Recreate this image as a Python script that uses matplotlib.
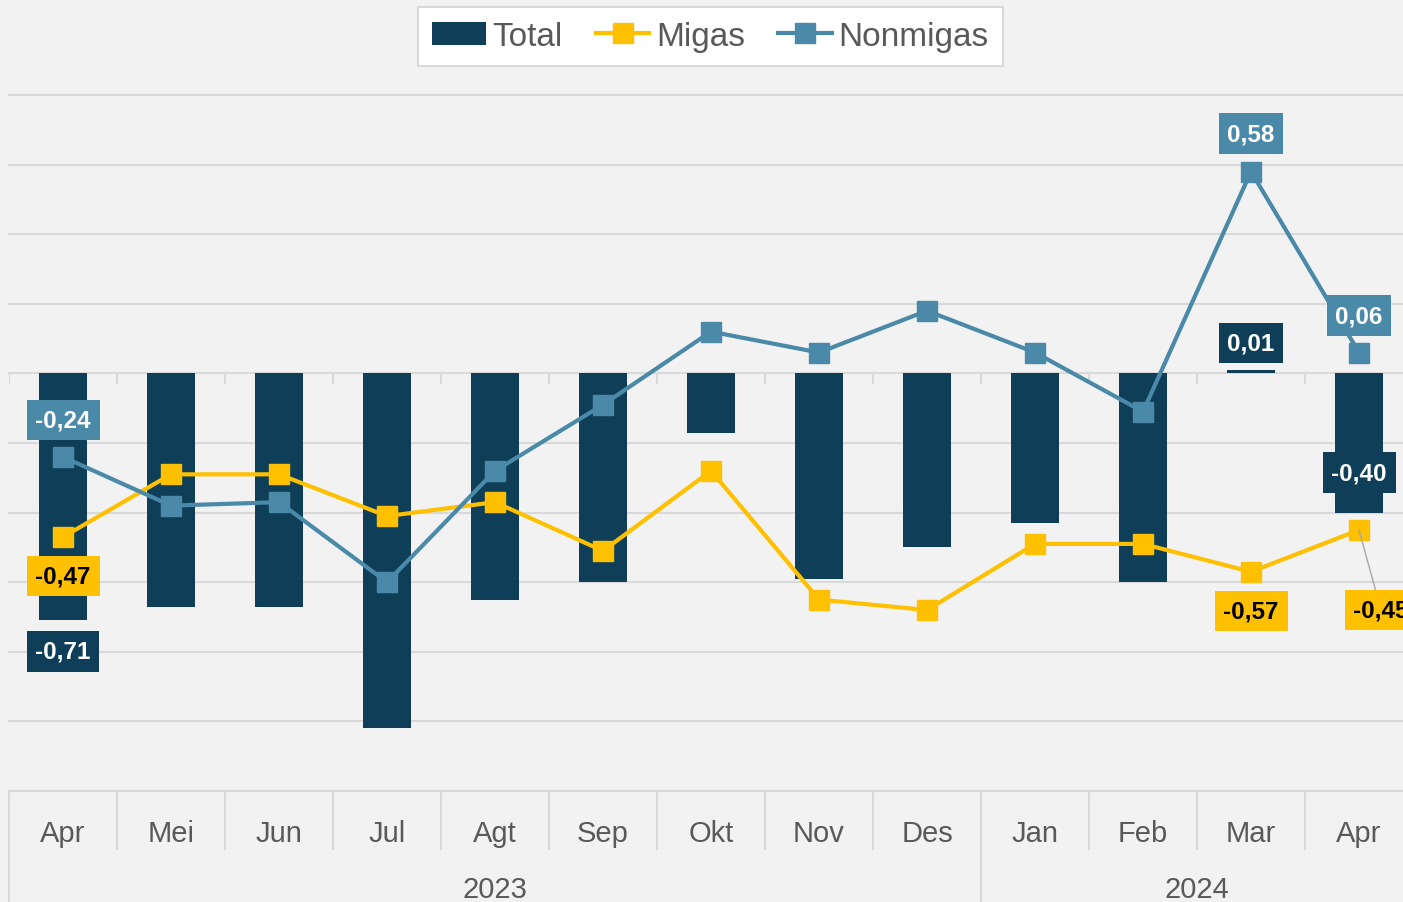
import matplotlib.pyplot as plt
import numpy as np
from matplotlib.patches import Patch
from matplotlib.lines import Line2D

# Data neraca (persen), Apr 2023 - Apr 2024
bulan = ['Apr', 'Mei', 'Jun', 'Jul', 'Agt', 'Sep', 'Okt', 'Nov', 'Des', 'Jan', 'Feb', 'Mar', 'Apr']
tahun = ['2023', '2024']
total = [-0.71, -0.67, -0.67, -1.02, -0.65, -0.60, -0.17, -0.59, -0.50, -0.43, -0.60, 0.01, -0.40]
migas = [-0.47, -0.29, -0.29, -0.41, -0.37, -0.51, -0.28, -0.65, -0.68, -0.49, -0.49, -0.57, -0.45]
nonmigas = [-0.24, -0.38, -0.37, -0.60, -0.28, -0.09, 0.12, 0.06, 0.18, 0.06, -0.11, 0.58, 0.06]

C_TOTAL = '#0f3f58'
C_MIGAS = '#ffc000'
C_NONMIGAS = '#4a89a8'
C_GRID = '#d9d9d9'
C_TEKS = '#595959'

plt.rcParams['font.family'] = ['Liberation Sans', 'DejaVu Sans']

fig = plt.figure(figsize=(14.03, 9.03), dpi=100, facecolor='#f2f2f2')
ax = fig.add_axes([9 / 1403, 111 / 903, 1404 / 1403, 696 / 903])
ax.set_facecolor('#f2f2f2')

x = np.arange(len(bulan))
ax.set_xlim(-0.5, len(bulan) - 0.5)
ax.set_ylim(-1.2, 0.8)

# garis bantu horizontal
for g in np.arange(-1.0, 0.81, 0.2):
    ax.axhline(g, color=C_GRID, lw=1.5, zorder=0, clip_on=False)

ax.bar(x, total, width=0.44, color=C_TOTAL, zorder=2)
ax.plot(x, migas, color=C_MIGAS, lw=3, marker='s', ms=14, zorder=3)
ax.plot(x, nonmigas, color=C_NONMIGAS, lw=3, marker='s', ms=14, zorder=4)

ax.set_xticks([])
ax.set_yticks([])
for s in ['left', 'right', 'top']:
    ax.spines[s].set_visible(False)
ax.spines['bottom'].set_color(C_GRID)
ax.spines['bottom'].set_linewidth(1.5)

# sumbu kategori bertingkat (bulan / tahun)
xt = ax.get_xaxis_transform()
batas = np.arange(-0.5, len(bulan))
for b in batas:
    bawah = -0.16 if b in (-0.5, 8.5) else -0.0833
    ax.plot([b, b], [0, bawah], transform=xt, color=C_GRID, lw=1.5, clip_on=False)
    ax.plot([b, b], [0, -0.029], color=C_GRID, lw=1.5, zorder=1)
for i, b in enumerate(bulan):
    ax.text(i, -0.06, b, transform=xt, ha='center', va='center', fontsize=21, color=C_TEKS)
ax.text(4, -0.141, tahun[0], transform=xt, ha='center', va='center', fontsize=21, color=C_TEKS)
ax.text(10.5, -0.141, tahun[1], transform=xt, ha='center', va='center', fontsize=21, color=C_TEKS)


def label(xi, yi, fc, tc, dx, dy, garis=False):
    teks = f'{yi:.2f}'.replace('.', ',')
    arrow = None
    if garis:
        arrow = dict(arrowstyle='-', color='#a6a6a6', lw=1, shrinkA=0, shrinkB=0)
    ax.annotate(teks, (xi, yi), xytext=(dx, dy), textcoords='offset pixels',
                ha='center', va='center', fontsize=17.5, fontweight='bold', color=tc,
                bbox=dict(boxstyle='square,pad=0.36', fc=fc, ec='none'),
                arrowprops=arrow, zorder=6, annotation_clip=False)


label(0, nonmigas[0], C_NONMIGAS, 'white', 0, 37)
label(0, migas[0], C_MIGAS, 'black', 0, -39)
label(0, total[0], C_TOTAL, 'white', 0, -31)
label(11, nonmigas[11], C_NONMIGAS, 'white', 0, 38)
label(11, total[11], C_TOTAL, 'white', 0, 27)
label(11, migas[11], C_MIGAS, 'black', 0, -39)
label(12, nonmigas[12], C_NONMIGAS, 'white', 0, 37)
label(12, total[12], C_TOTAL, 'white', 0, 40)
label(12, migas[12], C_MIGAS, 'black', 22, -80, garis=True)

handles = [Patch(facecolor=C_TOTAL),
           Line2D([], [], color=C_MIGAS, lw=3, marker='s', ms=14),
           Line2D([], [], color=C_NONMIGAS, lw=3, marker='s', ms=14)]
leg = fig.legend(handles, ['Total', 'Migas', 'Nonmigas'], loc='upper center',
                 bbox_to_anchor=(710.5 / 1403, 1 - 8 / 903), ncol=3, fontsize=24,
                 frameon=True, fancybox=False, edgecolor=C_GRID, facecolor='white',
                 framealpha=1, handlelength=1.6, handletextpad=0.2, columnspacing=1.0,
                 borderpad=0.42, borderaxespad=0, labelcolor=C_TEKS)
leg.get_frame().set_linewidth(1.5)

fig.savefig('out.png', dpi=100, facecolor=fig.get_facecolor())
